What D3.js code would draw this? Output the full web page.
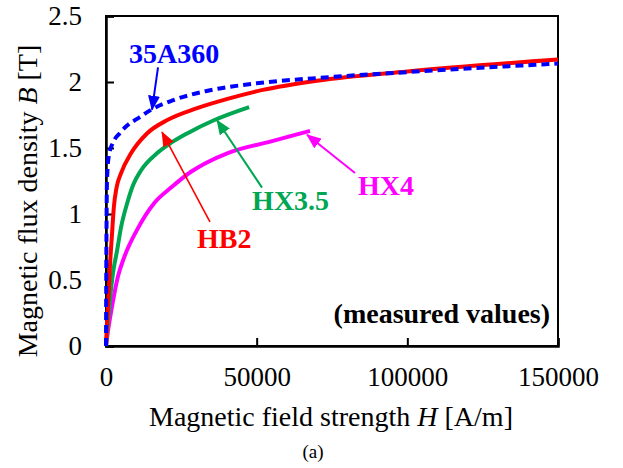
<!DOCTYPE html>
<html>
<head>
<meta charset="utf-8">
<script src="https://cdn.jsdelivr.net/npm/d3@7"></script>
<style>
  html, body { margin: 0; padding: 0; background: #fff; }
  svg { display: block; }
  svg text { font-family: "Liberation Serif", "Times New Roman", Times, serif; }
</style>
</head>
<body>
<svg id="chart" width="623" height="468"></svg>
<script>
// B-H magnetisation curves, H in A/m, B in T
const H_35A360 = [0, 100, 200, 330, 1000, 2300, 4500, 7000, 11000, 15000, 22000, 33000, 50000, 70000, 100000, 150000];
const B_35A360 = [0, 0.6, 1.0, 1.26, 1.45, 1.54, 1.61, 1.67, 1.73, 1.79, 1.86, 1.93, 1.99, 2.03, 2.075, 2.14];

const H_HB2 = [0, 400, 900, 1300, 2000, 2600, 3500, 5000, 8300, 13600, 20200, 30000, 40000, 52000, 70000, 100000, 150000];
const B_HB2 = [0, 0.2, 0.4, 0.6, 0.85, 1.05, 1.2, 1.31, 1.46, 1.61, 1.71, 1.8, 1.87, 1.94, 2.01, 2.08, 2.17];

const H_HX35 = [0, 700, 1300, 2300, 3650, 5000, 7000, 9000, 11600, 16900, 21000, 26900, 35800, 47500];
const B_HX35 = [0, 0.2, 0.35, 0.55, 0.72, 0.9, 1.08, 1.22, 1.33, 1.46, 1.53, 1.61, 1.71, 1.81];

const H_HX4 = [0, 700, 2000, 4000, 6000, 10300, 15900, 21600, 28200, 33000, 40200, 54800, 67700];
const B_HX4 = [0, 0.12, 0.3, 0.53, 0.67, 0.88, 1.08, 1.2, 1.32, 1.385, 1.46, 1.55, 1.63];

const xTicks = [0, 50000, 100000, 150000];
const yTicks = [0, 0.5, 1, 1.5, 2, 2.5];

const seriesNames = ["HX4", "HX3.5", "HB2", "35A360"];
const seriesColors = ["#ff00ff", "#00a651", "#ff0000", "#0000ff"];

const svg = d3.select("#chart");
const margin = { left: 106, right: 65, top: 16, bottom: 122 };
const W = 623, Hh = 468;
const serif = "'Liberation Serif', 'Times New Roman', Times, serif";

const x = d3.scaleLinear().domain([0, 150000]).range([margin.left, W - margin.right]);
const y = d3.scaleLinear().domain([0, 2.5]).range([Hh - margin.bottom, margin.top]);

const zip = (hs, bs) => hs.map((h, i) => ({ h, b: bs[i] }));
const series = [
  { name: "HX4", data: zip(H_HX4, B_HX4), dash: null },
  { name: "HX3.5", data: zip(H_HX35, B_HX35), dash: null },
  { name: "HB2", data: zip(H_HB2, B_HB2), dash: null },
  { name: "35A360", data: zip(H_35A360, B_35A360), dash: "8,5" }
];

// arrowhead markers
const defs = svg.append("defs");
seriesNames.forEach((n, i) => {
  defs.append("marker")
    .attr("id", "arrow" + i)
    .attr("viewBox", "0 0 15 12")
    .attr("refX", 14).attr("refY", 6)
    .attr("markerWidth", 15).attr("markerHeight", 12)
    .attr("markerUnits", "userSpaceOnUse")
    .attr("orient", "auto")
    .append("path").attr("d", "M0,0 L15,6 L0,12 Z")
    .attr("fill", seriesColors[i]);
});

// frame
svg.append("rect")
  .attr("x", x(0)).attr("y", y(2.5))
  .attr("width", x(150000) - x(0)).attr("height", y(0) - y(2.5))
  .attr("fill", "none").attr("stroke", "#000").attr("stroke-width", 2);

// axes with inward ticks
const xAxis = d3.axisBottom(x).tickValues(xTicks).tickSize(-8).tickPadding(21).tickFormat(d3.format("d"));
const yAxis = d3.axisLeft(y).tickValues(yTicks).tickSize(-8).tickPadding(24).tickFormat(d => String(d));

const gx = svg.append("g").attr("transform", `translate(0,${y(0)})`).call(xAxis);
const gy = svg.append("g").attr("transform", `translate(${x(0)},0)`).call(yAxis);
[gx, gy].forEach(g => {
  g.attr("font-family", serif).attr("font-size", 27);
  g.select(".domain").attr("stroke", "#000").attr("stroke-width", 2.5);
  g.selectAll(".tick line").attr("stroke", "#000").attr("stroke-width", 2);
  g.selectAll(".tick text").attr("fill", "#000");
});
gx.selectAll(".tick text").attr("dy", "0.71em");

// curves
const line = d3.line().x(d => x(d.h)).y(d => y(d.b)).curve(d3.curveMonotoneX);
series.forEach((s, i) => {
  svg.append("path")
    .datum(s.data)
    .attr("d", line)
    .attr("fill", "none")
    .attr("stroke", seriesColors[i])
    .attr("stroke-width", 4)
    .attr("stroke-dasharray", s.dash)
    .attr("stroke-linejoin", "round");
});

// curve labels with pointer arrows (positions in H, B units)
const labels = [
  { i: 3, text: "35A360", at: [7630, 2.144], from: [17260, 2.11], to: [15270, 1.79], w: 2 },
  { i: 2, text: "HB2", at: [30210, 0.742], from: [34500, 0.94], to: [18590, 1.62], w: 1.6 },
  { i: 1, text: "HX3.5", at: [48490, 1.03], from: [51780, 1.2], to: [36840, 1.71], w: 2 },
  { i: 0, text: "HX4", at: [83640, 1.144], from: [82640, 1.31], to: [66710, 1.6], w: 2 }
];
labels.forEach(l => {
  svg.append("line")
    .attr("x1", x(l.from[0])).attr("y1", y(l.from[1]))
    .attr("x2", x(l.to[0])).attr("y2", y(l.to[1]))
    .attr("stroke", seriesColors[l.i]).attr("stroke-width", l.w)
    .attr("marker-end", `url(#arrow${l.i})`);
  svg.append("text")
    .attr("x", x(l.at[0])).attr("y", y(l.at[1]))
    .attr("fill", seriesColors[l.i])
    .attr("font-family", serif)
    .attr("font-size", 28).attr("font-weight", "bold")
    .text(l.text);
});

svg.append("text")
  .attr("x", x(147360)).attr("y", y(0.174))
  .attr("text-anchor", "end")
  .attr("font-family", serif)
  .attr("font-size", 28).attr("font-weight", "bold")
  .text("(measured values)");

// axis titles
const xt = svg.append("text")
  .attr("x", 331).attr("y", 426)
  .attr("text-anchor", "middle")
  .attr("font-family", serif)
  .attr("font-size", 28);
xt.append("tspan").text("Magnetic field strength ");
xt.append("tspan").attr("font-style", "italic").text("H");
xt.append("tspan").text(" [A/m]");

const yt = svg.append("text")
  .attr("transform", "translate(37,201) rotate(-90)")
  .attr("text-anchor", "middle")
  .attr("font-family", serif)
  .attr("font-size", 28);
yt.append("tspan").text("Magnetic flux density ");
yt.append("tspan").attr("font-style", "italic").text("B");
yt.append("tspan").text(" [T]");

svg.append("text")
  .attr("x", 313).attr("y", 458)
  .attr("text-anchor", "middle")
  .attr("font-family", serif)
  .attr("font-size", 19)
  .text("(a)");
</script>
</body>
</html>
